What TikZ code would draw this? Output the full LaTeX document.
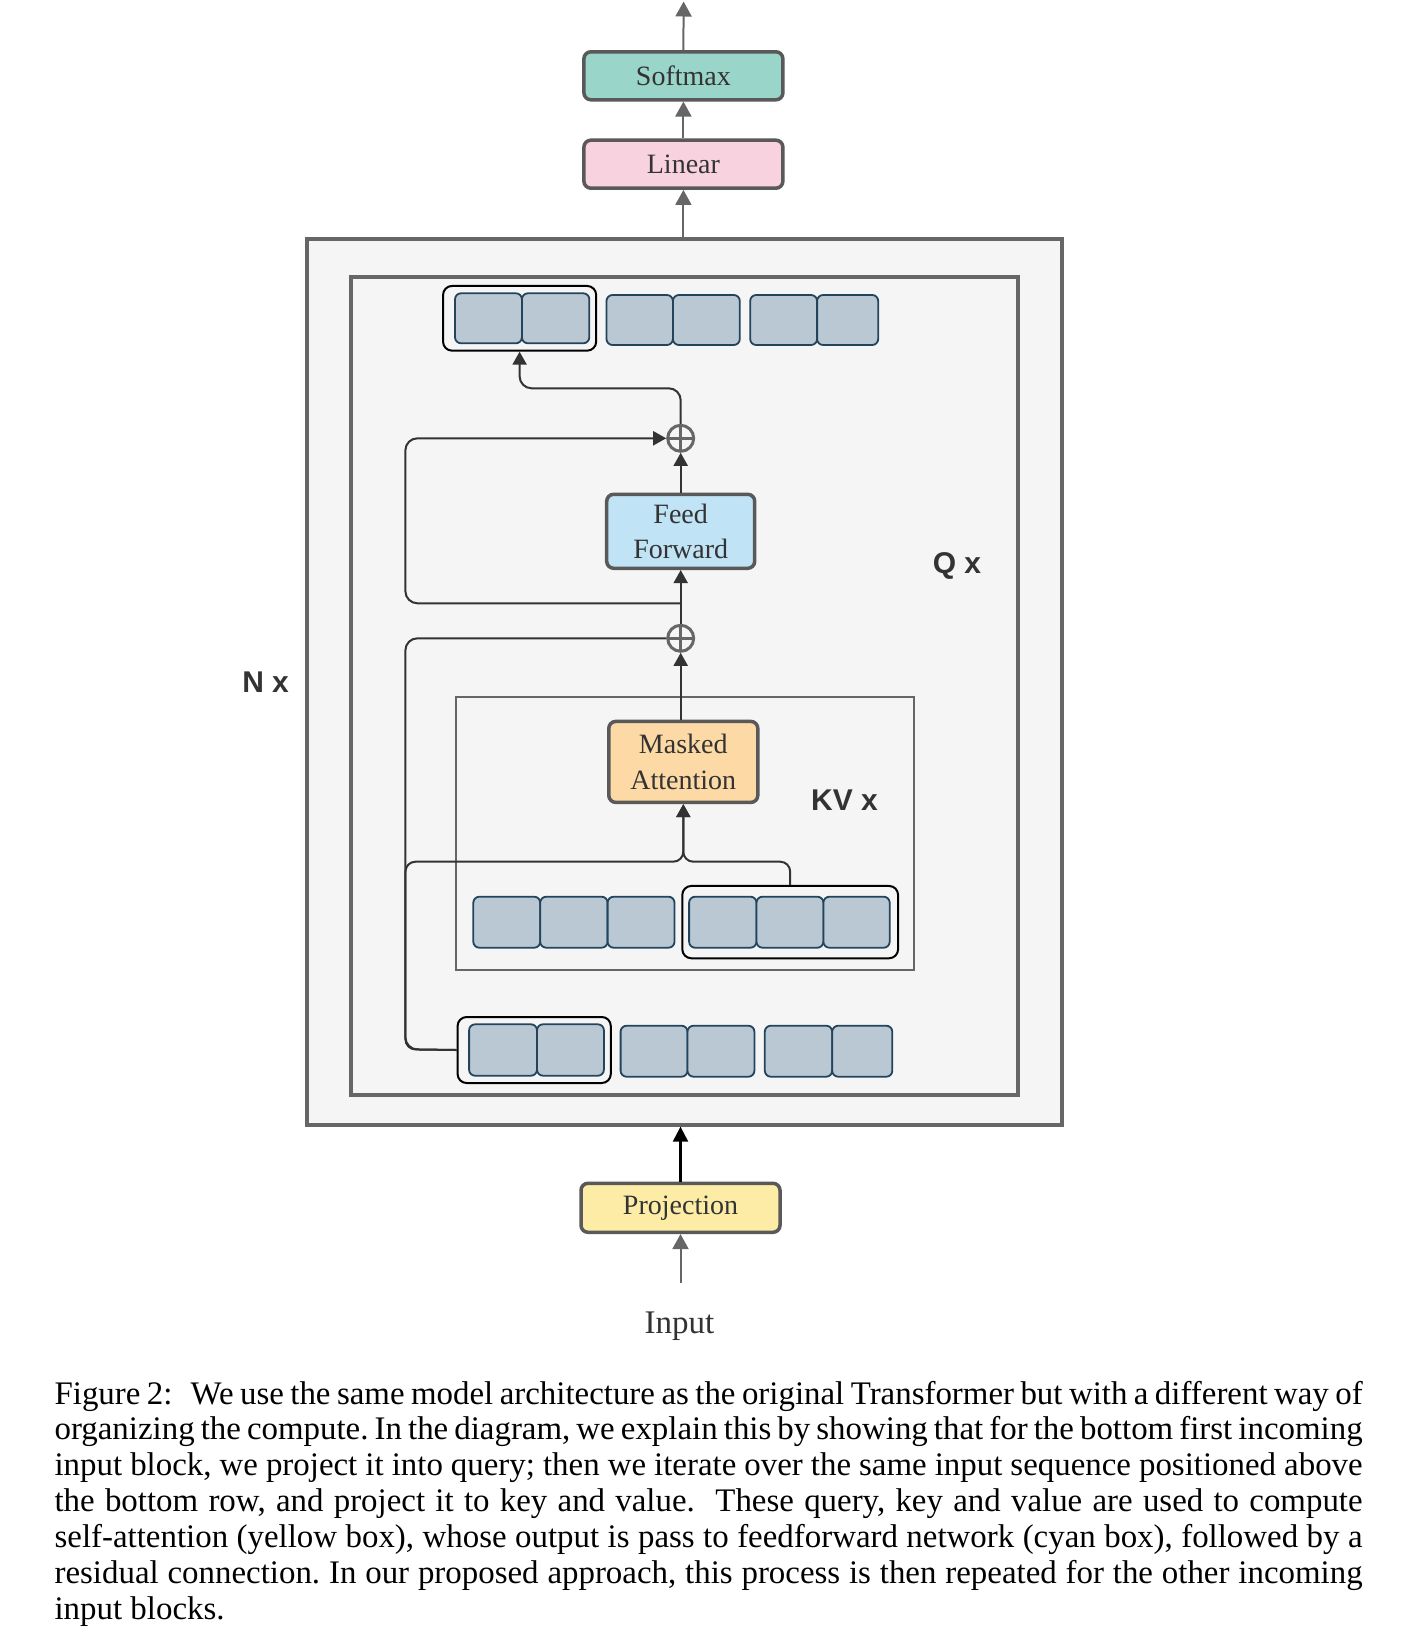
\documentclass[tikz,border=0pt]{standalone}
\usepackage{fontspec}
\setmainfont{Liberation Serif}
\setsansfont{Liberation Sans}
\usetikzlibrary{arrows.meta}
\definecolor{bgbox}{HTML}{F5F5F5}
\definecolor{frame}{HTML}{666666}
\definecolor{bstroke}{HTML}{595959}
\definecolor{conn}{HTML}{333333}
\definecolor{tokfill}{HTML}{BAC8D3}
\definecolor{tokline}{HTML}{23445D}
\definecolor{softc}{HTML}{9AD5C9}
\definecolor{linc}{HTML}{F8D3DF}
\definecolor{ffc}{HTML}{C0E3F5}
\definecolor{mac}{HTML}{FDD9A6}
\definecolor{projc}{HTML}{FDECA6}
\tikzset{
  bigbox/.style={draw=frame, fill=bgbox, line width=3.5pt, inner sep=0},
  kvbox/.style={draw=frame, fill=bgbox, line width=2.5pt, inner sep=0},
  opbox/.style={draw=bstroke, line width=3.5pt, rounded corners=7pt, inner sep=0,
    align=center, text=conn, font=\fontsize{28}{35.5}\selectfont},
  token/.style={draw=tokline, fill=tokfill, line width=1.8pt, rounded corners=6pt, inner sep=0},
  grp/.style={draw=black, line width=2pt, rounded corners=9pt, inner sep=0},
  plus/.style={circle, draw=frame, line width=3pt, minimum size=26pt, inner sep=0,
    path picture={\draw[frame, line width=2.5pt]
      (path picture bounding box.north) -- (path picture bounding box.south)
      (path picture bounding box.west) -- (path picture bounding box.east);}},
  wire/.style={draw=conn, line width=2pt, rounded corners=12pt},
  tip/.style={-{Triangle[length=13pt,width=14pt]}},
  gwire/.style={draw=frame, line width=2pt, -{Triangle[length=15pt,width=16pt]}},
  bwire/.style={draw=black, line width=2.2pt, -{Triangle[length=15pt,width=15pt]}},
  lab/.style={text=conn, inner sep=0, font=\sffamily\bfseries\fontsize{30}{36}\selectfont},
}
\begin{document}
\begin{tikzpicture}[x=1pt,y=-1pt]
\path[use as bounding box, fill=white] (0,0) rectangle (1418,1640);

% frames
\node[bigbox, minimum width=755pt, minimum height=886pt] (N) at (684.6,681.9) {};
\node[bigbox, minimum width=667pt, minimum height=818pt] (Q) at (684.6,685.9) {};
\node[kvbox, minimum width=458pt, minimum height=273pt] (KV) at (685.1,833.4) {};

\node[lab] (nx) at (265.6,682.5) {N x};
\node[lab] (qx) at (957,566) {Q x};
\node[lab] (kvx) at (844.5,800) {KV x};

% operation boxes
\node[opbox, fill=softc, minimum width=199pt, minimum height=48pt] (soft) at (683.4,75.8) {Softmax};
\node[opbox, fill=linc, minimum width=199pt, minimum height=48pt] (lin) at (683.4,164.2) {Linear};
\node[opbox, fill=ffc, minimum width=148pt, minimum height=74pt] (ff) at (680.7,531.3) {Feed\\Forward};
\node[opbox, fill=mac, minimum width=149pt, minimum height=81pt] (ma) at (683.3,761.9) {Masked\\Attention};
\node[opbox, fill=projc, minimum width=199pt, minimum height=49pt] (proj) at (680.5,1207.8) {Projection};
\node[inner sep=0, anchor=base, text=conn, font=\fontsize{33}{38}\selectfont] (inp) at (679.5,1333) {Input};

\node[plus] (p1) at (680.7,438.3) {};
\node[plus] (p2) at (680.7,638.3) {};

% top row of tokens
\node[token, minimum width=66.9pt, minimum height=50pt] (ta1) at (488.45,318.3) {};
\node[token, minimum width=67.4pt, minimum height=50pt] (ta2) at (555.6,318.3) {};
\node[token, minimum width=66.4pt, minimum height=50pt] (tb1) at (639.7,320) {};
\node[token, minimum width=66.9pt, minimum height=50pt] (tb2) at (706.35,320) {};
\node[token, minimum width=66.9pt, minimum height=50pt] (tc1) at (783.65,320) {};
\node[token, minimum width=61.1pt, minimum height=50pt] (tc2) at (847.65,320) {};
\node[grp, minimum width=153.1pt, minimum height=64.7pt] (gtop) at (519.6,318.3) {};

% KV row of tokens
\node[token, minimum width=66.9pt, minimum height=51pt] (ka1) at (506.75,922.2) {};
\node[token, minimum width=67.4pt, minimum height=51pt] (ka2) at (573.9,922.2) {};
\node[token, minimum width=66.9pt, minimum height=51pt] (ka3) at (641.05,922.2) {};
\node[token, minimum width=67.4pt, minimum height=51pt] (kb1) at (722.8,922.2) {};
\node[token, minimum width=66.9pt, minimum height=51pt] (kb2) at (789.95,922.2) {};
\node[token, minimum width=66.3pt, minimum height=51pt] (kb3) at (856.55,922.2) {};
\node[grp, minimum width=215.8pt, minimum height=72.3pt] (gkv) at (790.2,922.1) {};

% bottom row of tokens
\node[token, minimum width=67.9pt, minimum height=51.4pt] (ba1) at (503.05,1050) {};
\node[token, minimum width=66.9pt, minimum height=51.4pt] (ba2) at (570.45,1050) {};
\node[token, minimum width=66.9pt, minimum height=51pt] (bb1) at (654.05,1051.2) {};
\node[token, minimum width=66.9pt, minimum height=51pt] (bb2) at (720.95,1051.2) {};
\node[token, minimum width=67.4pt, minimum height=51pt] (bc1) at (798.5,1051.2) {};
\node[token, minimum width=60.1pt, minimum height=51pt] (bc2) at (862.25,1051.2) {};
\node[grp, minimum width=153.2pt, minimum height=66pt] (gbot) at (534.2,1050) {};

% outer connectors
\coordinate (out) at (683.6,1.5);
\coordinate (inq) at (680.5,1283);
\draw[gwire] (soft.north) -- (out);
\draw[gwire] (lin.north) -- (soft.south);
\draw[gwire] (lin.south |- N.north) -- (lin.south);
\draw[bwire] (proj.north) -- (proj.north |- N.south);
\draw[gwire] (inq) -- (proj.south);

% inner connectors
\draw[wire] (gbot.west) -- (405.4,1049.3) -- (405.4,638.3) -- (p2.west);
\draw[wire, tip, rounded corners=10pt] (gbot.west) -- (405.4,1049.3) -- (405.4,861.7) -- (ma.south |- 0,861.7) -- (ma.south);
\draw[wire, tip, rounded corners=10pt] (gkv.north) -- (gkv.north |- 0,861.7) -- (ma.south |- 0,861.7) -- (ma.south);
\draw[wire, tip] (p2.south |- ma.north) -- (p2.south);
\draw[wire, tip] (p2.north) -- (ff.south);
\coordinate (split) at (680.7,603.3);
\draw[wire, tip] (split) -- (405.4,603.3) -- (405.4,438.3) -- (p1.west);
\draw[wire, tip] (ff.north) -- (p1.south);
\draw[wire, tip] (p1.north) -- (p1.north |- 0,388.3) -- (gtop.south |- 0,388.3) -- (gtop.south);

% caption
\node[anchor=base west, inner sep=0] (cap) at (54.4,1404) {\parbox[t]{1308pt}{\fontsize{32.9}{35.9}\selectfont\frenchspacing
Figure 2:\hspace{0.55em}We use the same model architecture as the original Transformer but with a different way of\linebreak
organizing the compute. In the diagram, we explain this by showing that for the bottom first incoming\linebreak
input block, we project it into query; then we iterate over the same input sequence positioned above\linebreak
the bottom row, and project it to key and value.\ \ These query, key and value are used to compute\linebreak
self-attention (yellow box), whose output is pass to feedforward network (cyan box), followed by a\linebreak
residual connection. In our proposed approach, this process is then repeated for the other incoming\linebreak
input blocks.}};
\end{tikzpicture}
\end{document}
